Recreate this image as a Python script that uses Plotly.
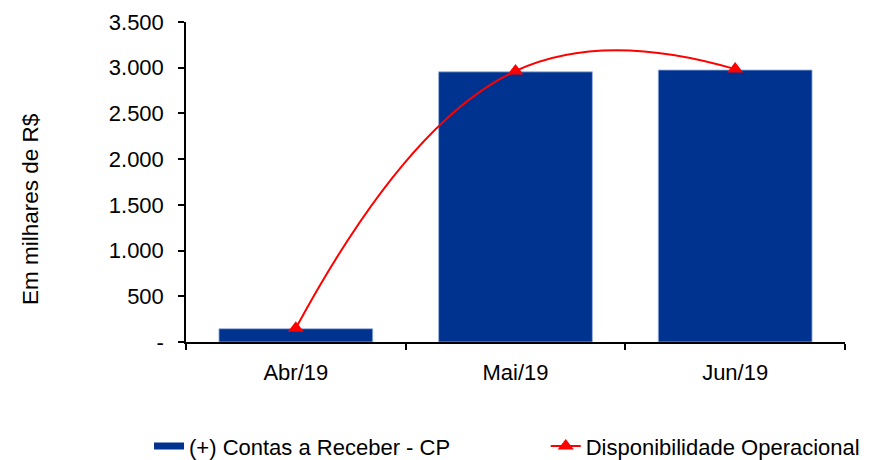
import plotly.graph_objects as go

# data (R$ mil)
meses = ["Abr/19", "Mai/19", "Jun/19"]
contas_receber = [145, 2955, 2975]
disponibilidade = [150, 2965, 2985]

y_ticks = [0, 500, 1000, 1500, 2000, 2500, 3000, 3500]
y_tick_text = ["-", "500", "1.000", "1.500", "2.000", "2.500", "3.000", "3.500"]

NAVY = "#00338F"
RED = "#FF0000"
FONT = "Liberation Sans, Arial, sans-serif"

fig = go.Figure()
fig.add_bar(x=meses, y=contas_receber, name="(+) Contas a Receber - CP",
            marker=dict(color=NAVY, line=dict(color="#9DB3DD", width=0.8)),
            showlegend=False)
# legend stand-in for the bar series (wide flat swatch like the original)
fig.add_trace(go.Scatter(x=[None], y=[None], mode="lines", name="(+) Contas a Receber - CP",
                         line=dict(color=NAVY, width=7), legend="legend"))
fig.add_trace(go.Scatter(x=meses, y=disponibilidade, name="Disponibilidade Operacional",
                         mode="lines+markers", legend="legend2",
                         line=dict(color=RED, width=2, shape="spline", smoothing=1.3),
                         marker=dict(symbol="triangle-up", size=14, color=RED)))

leg = dict(orientation="h", xref="container", xanchor="left",
           yref="container", y=0.03, yanchor="middle", font=dict(size=22))

fig.update_layout(
    width=869, height=460,
    margin=dict(l=186, r=24, t=22, b=118),
    paper_bgcolor="white", plot_bgcolor="white",
    font=dict(family=FONT, size=22, color="black"),
    bargap=0.30,
    showlegend=True,
    legend=dict(leg, x=0.1715),
    legend2=dict(leg, x=0.628),
)
# y title sits a bit below the axis middle in the original
fig.add_annotation(text="Em milhares de R$", textangle=-90, showarrow=False,
                   xref="paper", yref="paper", x=-0.237, y=0.415,
                   xanchor="center", yanchor="middle", font=dict(size=22.5))
fig.update_xaxes(showline=True, linecolor="black", linewidth=1.5, automargin=False,
                 ticks="outside", tickson="boundaries", ticklen=6, tickcolor="black",
                 tickwidth=1.5, showgrid=False, ticklabelstandoff=10)
fig.update_yaxes(range=[0, 3500], tickvals=y_ticks, ticktext=y_tick_text,
                 showline=True, linecolor="black", linewidth=1.5, automargin=False,
                 ticks="outside", ticklen=6, tickcolor="black", tickwidth=1.5,
                 showgrid=False, zeroline=False, ticklabelstandoff=10)

fig.write_html("out.html", config={"displayModeBar": False},
               post_script="document.body.style.margin='0';")
